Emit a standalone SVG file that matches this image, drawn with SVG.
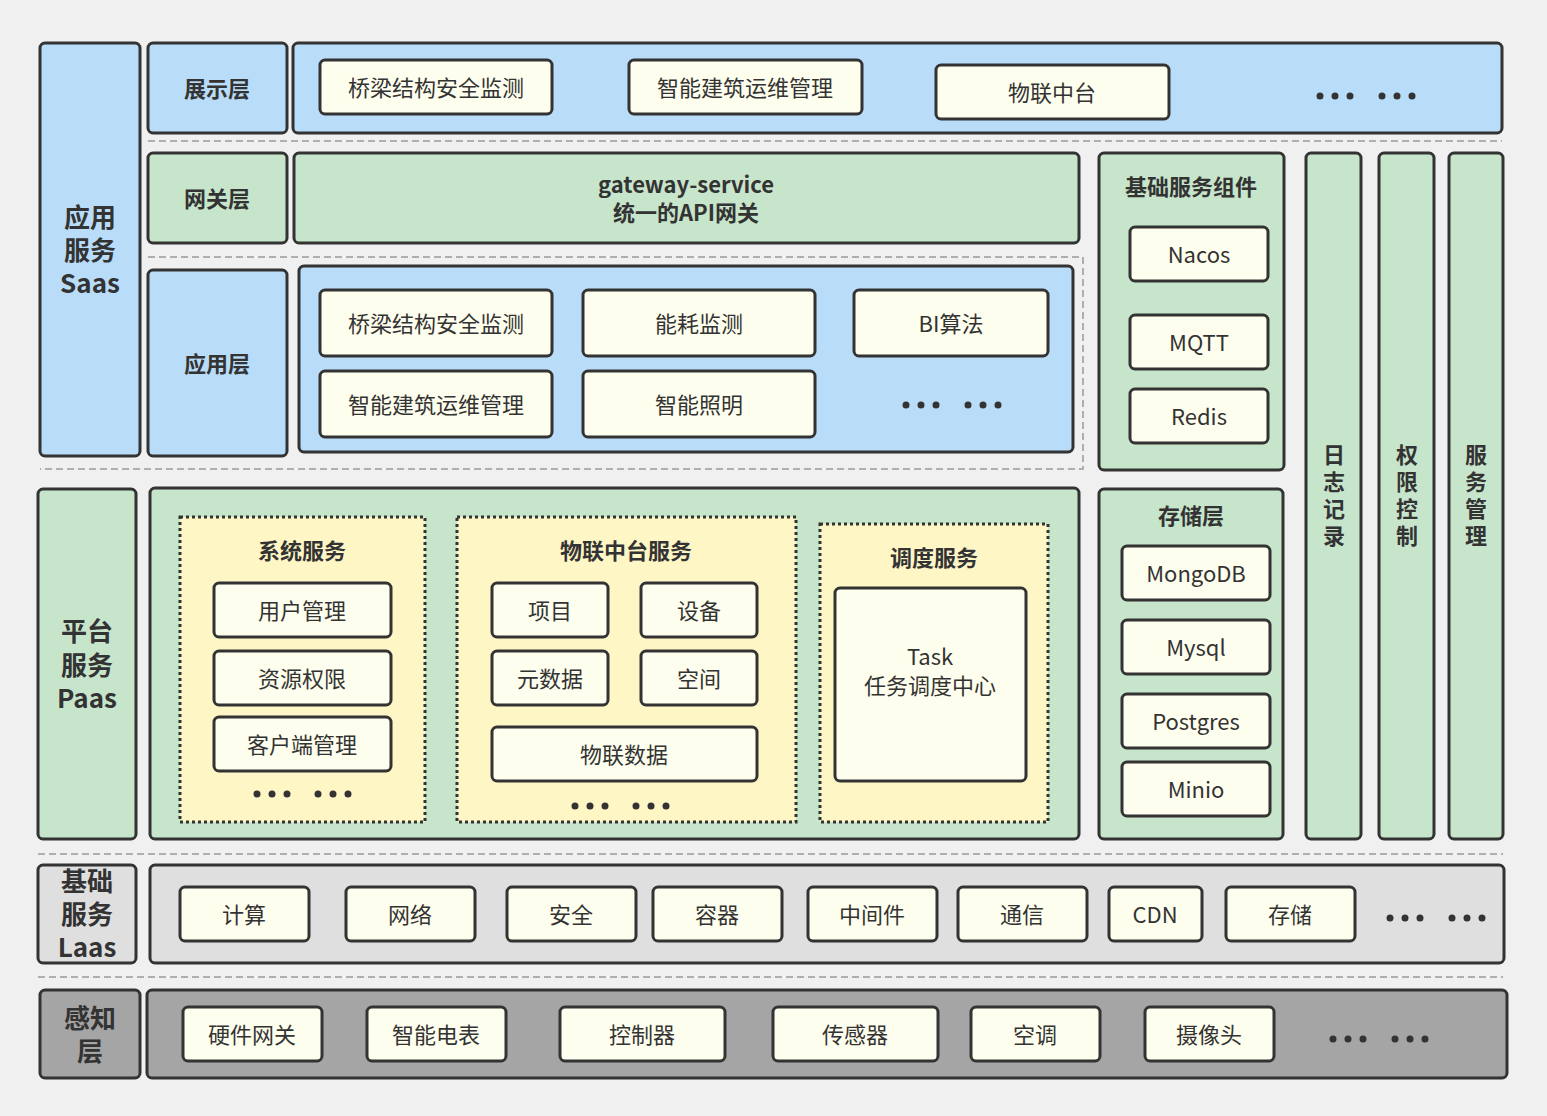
<svg xmlns="http://www.w3.org/2000/svg" width="1547" height="1116" viewBox="0 0 1547 1116">
<style>
rect{stroke:#333;stroke-width:3}
.b{fill:#b9ddf8}.g{fill:#c7e5cb}.y{fill:#fefeee}.d{fill:#fff6c6;stroke-dasharray:3 3}.l{fill:#dfdfdf}.k{fill:#a5a5a5}
text{font-family:"Microsoft YaHei","Noto Sans CJK SC",sans-serif;fill:#333;text-anchor:middle;dominant-baseline:central;transform:translateY(-2px)}
.t{font-size:22px}.h{font-size:22px;font-weight:bold}.s{font-size:26px;font-weight:bold}
.v{font-size:22px;font-weight:bold;writing-mode:vertical-rl;letter-spacing:5px;dominant-baseline:auto;text-anchor:start;transform:none}
.dl{stroke:#999;stroke-width:1.5;stroke-dasharray:7 4;fill:none}
.dot{fill:#333}
</style>
<rect width="1547" height="1116" fill="#f0f0f0" style="stroke:none"/>
<g id="lines">
<path class="dl" d="M148 141H1502M148 257H1083V469H40M38 854H1503M38 977H1503"/>
</g>
<g id="saas"><rect class="b" x="40" y="43" width="100" height="413" rx="5"/><text class="s" x="90" y="217">应用</text><text class="s" x="90" y="250">服务</text><text class="s" x="90" y="283">Saas</text></g>
<g id="show"><rect class="b" x="148" y="43" width="139" height="90" rx="5"/><text class="h" x="217" y="89">展示层</text>
<rect class="b" x="293" y="43" width="1209" height="90" rx="5"/>
<rect class="y" x="320" y="60" width="232" height="54" rx="5"/><text class="t" x="436" y="88">桥梁结构安全监测</text>
<rect class="y" x="629" y="60" width="233" height="54" rx="5"/><text class="t" x="745" y="88">智能建筑运维管理</text>
<rect class="y" x="936" y="65" width="233" height="54" rx="5"/><text class="t" x="1052" y="93">物联中台</text>
<g class="dot"><circle cx="1320" cy="96" r="3.5"/><circle cx="1335" cy="96" r="3.5"/><circle cx="1350" cy="96" r="3.5"/><circle cx="1382" cy="96" r="3.5"/><circle cx="1397" cy="96" r="3.5"/><circle cx="1412" cy="96" r="3.5"/></g></g>
<g id="gw"><rect class="g" x="148" y="153" width="139" height="90" rx="5"/><text class="h" x="217" y="199">网关层</text>
<rect class="g" x="294" y="153" width="785" height="90" rx="5"/><text class="h" x="686" y="185">gateway-service</text><text class="h" x="686" y="213">统一的API网关</text></g>
<g id="app"><rect class="b" x="148" y="270" width="139" height="186" rx="5"/><text class="h" x="217" y="364">应用层</text>
<rect class="b" x="299" y="266" width="774" height="186" rx="5"/>
<rect class="y" x="320" y="290" width="232" height="66" rx="5"/><text class="t" x="436" y="324">桥梁结构安全监测</text>
<rect class="y" x="583" y="290" width="232" height="66" rx="5"/><text class="t" x="699" y="324">能耗监测</text>
<rect class="y" x="854" y="290" width="194" height="66" rx="5"/><text class="t" x="951" y="324">BI算法</text>
<rect class="y" x="320" y="371" width="232" height="66" rx="5"/><text class="t" x="436" y="405">智能建筑运维管理</text>
<rect class="y" x="583" y="371" width="232" height="66" rx="5"/><text class="t" x="699" y="405">智能照明</text>
<g class="dot"><circle cx="906" cy="405" r="3.5"/><circle cx="921" cy="405" r="3.5"/><circle cx="936" cy="405" r="3.5"/><circle cx="968" cy="405" r="3.5"/><circle cx="983" cy="405" r="3.5"/><circle cx="998" cy="405" r="3.5"/></g></g>
<g id="base"><rect class="g" x="1099" y="153" width="185" height="317" rx="5"/><text class="h" x="1191" y="187">基础服务组件</text>
<rect class="y" x="1130" y="227" width="138" height="54" rx="5"/><text class="t" x="1199" y="255">Nacos</text>
<rect class="y" x="1130" y="315" width="138" height="54" rx="5"/><text class="t" x="1199" y="343">MQTT</text>
<rect class="y" x="1130" y="389" width="138" height="54" rx="5"/><text class="t" x="1199" y="417">Redis</text></g>
<g id="cols"><rect class="g" x="1306" y="153" width="55" height="686" rx="5"/><rect class="g" x="1379" y="153" width="55" height="686" rx="5"/><rect class="g" x="1449" y="153" width="54" height="686" rx="5"/>
<text class="v" x="1334" y="444">日志记录</text>
<text class="v" x="1407" y="444">权限控制</text>
<text class="v" x="1476" y="444">服务管理</text></g>
<g id="paas"><rect class="g" x="38" y="489" width="98" height="350" rx="5"/><text class="s" x="87" y="631">平台</text><text class="s" x="87" y="665">服务</text><text class="s" x="87" y="698">Paas</text>
<rect class="g" x="150" y="488" width="929" height="351" rx="5"/>
<rect class="d" x="180" y="517" width="245" height="305"/><text class="h" x="302" y="551">系统服务</text>
<rect class="y" x="214" y="583" width="177" height="54" rx="5"/><text class="t" x="302" y="611">用户管理</text>
<rect class="y" x="214" y="651" width="177" height="54" rx="5"/><text class="t" x="302" y="679">资源权限</text>
<rect class="y" x="214" y="717" width="177" height="54" rx="5"/><text class="t" x="302" y="745">客户端管理</text>
<g class="dot"><circle cx="257" cy="794" r="3.5"/><circle cx="272" cy="794" r="3.5"/><circle cx="287" cy="794" r="3.5"/><circle cx="318" cy="794" r="3.5"/><circle cx="333" cy="794" r="3.5"/><circle cx="348" cy="794" r="3.5"/></g>
<rect class="d" x="457" y="517" width="339" height="305"/><text class="h" x="626" y="551">物联中台服务</text>
<rect class="y" x="492" y="583" width="116" height="54" rx="5"/><text class="t" x="550" y="611">项目</text>
<rect class="y" x="641" y="583" width="116" height="54" rx="5"/><text class="t" x="699" y="611">设备</text>
<rect class="y" x="492" y="651" width="116" height="54" rx="5"/><text class="t" x="550" y="679">元数据</text>
<rect class="y" x="641" y="651" width="116" height="54" rx="5"/><text class="t" x="699" y="679">空间</text>
<rect class="y" x="492" y="727" width="265" height="54" rx="5"/><text class="t" x="624" y="755">物联数据</text>
<g class="dot"><circle cx="575" cy="806" r="3.5"/><circle cx="590" cy="806" r="3.5"/><circle cx="605" cy="806" r="3.5"/><circle cx="636" cy="806" r="3.5"/><circle cx="651" cy="806" r="3.5"/><circle cx="666" cy="806" r="3.5"/></g>
<rect class="d" x="820" y="524" width="228" height="298"/><text class="h" x="934" y="558">调度服务</text>
<rect class="y" x="835" y="588" width="191" height="193" rx="5"/><text class="t" x="930" y="657">Task</text><text class="t" x="930" y="686">任务调度中心</text></g>
<g id="store"><rect class="g" x="1099" y="489" width="184" height="350" rx="5"/><text class="h" x="1191" y="516">存储层</text>
<rect class="y" x="1122" y="546" width="148" height="54" rx="5"/><text class="t" x="1196" y="574">MongoDB</text>
<rect class="y" x="1122" y="620" width="148" height="54" rx="5"/><text class="t" x="1196" y="648">Mysql</text>
<rect class="y" x="1122" y="694" width="148" height="54" rx="5"/><text class="t" x="1196" y="722">Postgres</text>
<rect class="y" x="1122" y="762" width="148" height="54" rx="5"/><text class="t" x="1196" y="790">Minio</text></g>
<g id="laas"><rect class="l" x="38" y="865" width="98" height="98" rx="5"/><text class="s" x="87" y="881">基础</text><text class="s" x="87" y="914">服务</text><text class="s" x="87" y="947">Laas</text>
<rect class="l" x="150" y="865" width="1354" height="98" rx="5"/>
<rect x="180" y="887" width="129" height="54" rx="5" class="y"/><rect x="346" y="887" width="129" height="54" rx="5" class="y"/><rect x="507" y="887" width="129" height="54" rx="5" class="y"/><rect x="653" y="887" width="129" height="54" rx="5" class="y"/><rect x="808" y="887" width="129" height="54" rx="5" class="y"/><rect x="958" y="887" width="129" height="54" rx="5" class="y"/><rect x="1109" y="887" width="93" height="54" rx="5" class="y"/><rect x="1226" y="887" width="129" height="54" rx="5" class="y"/>
<text class="t" x="244" y="915">计算</text><text class="t" x="410" y="915">网络</text><text class="t" x="571" y="915">安全</text><text class="t" x="717" y="915">容器</text><text class="t" x="872" y="915">中间件</text><text class="t" x="1022" y="915">通信</text><text class="t" x="1155" y="915">CDN</text><text class="t" x="1290" y="915">存储</text>
<g class="dot"><circle cx="1390" cy="918" r="3.5"/><circle cx="1405" cy="918" r="3.5"/><circle cx="1420" cy="918" r="3.5"/><circle cx="1452" cy="918" r="3.5"/><circle cx="1467" cy="918" r="3.5"/><circle cx="1482" cy="918" r="3.5"/></g></g>
<g id="sense"><rect class="k" x="40" y="990" width="100" height="88" rx="5"/><text class="s" x="90" y="1018">感知</text><text class="s" x="90" y="1051">层</text>
<rect class="k" x="147" y="990" width="1360" height="88" rx="5"/>
<rect class="y" x="183" y="1007" width="139" height="54" rx="5"/><rect class="y" x="367" y="1007" width="139" height="54" rx="5"/><rect class="y" x="560" y="1007" width="165" height="54" rx="5"/><rect class="y" x="773" y="1007" width="165" height="54" rx="5"/><rect class="y" x="971" y="1007" width="129" height="54" rx="5"/><rect class="y" x="1145" y="1007" width="129" height="54" rx="5"/>
<text class="t" x="252" y="1035">硬件网关</text><text class="t" x="436" y="1035">智能电表</text><text class="t" x="642" y="1035">控制器</text><text class="t" x="855" y="1035">传感器</text><text class="t" x="1035" y="1035">空调</text><text class="t" x="1209" y="1035">摄像头</text>
<g class="dot"><circle cx="1333" cy="1039" r="3.5"/><circle cx="1348" cy="1039" r="3.5"/><circle cx="1363" cy="1039" r="3.5"/><circle cx="1395" cy="1039" r="3.5"/><circle cx="1410" cy="1039" r="3.5"/><circle cx="1425" cy="1039" r="3.5"/></g></g>
</svg>
